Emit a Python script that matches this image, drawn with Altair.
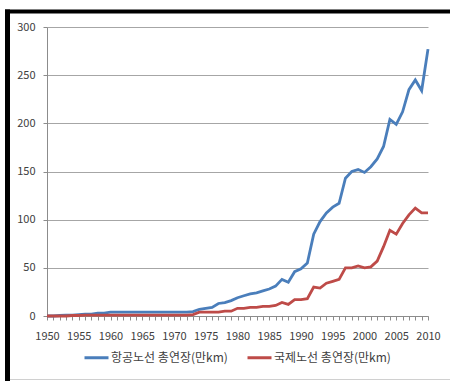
import altair as alt
import pandas as pd

years = list(range(1950, 2011))

air_total = [0, 0, 0.5, 1, 1, 1.5, 2, 2, 3, 3, 4,
             4, 4, 4, 4, 4, 4, 4, 4, 4, 4, 4, 4,
             4.5, 7, 8, 9, 13, 14, 16, 19, 21, 23, 24, 26, 28, 31, 38, 35, 46, 49,
             55, 85, 98, 107, 113, 117, 143, 150, 152, 149, 155, 163, 176, 204,
             199, 212, 235, 245, 234, 277]

intl_total = [0, 0, 0, 0, 0.5, 0.5, 1, 1, 1, 1, 1,
              1, 1, 1, 1, 1, 1, 1, 1, 1, 1, 1, 1,
              1.5, 4, 4, 4, 4, 5, 5, 8, 8, 9, 9, 10, 10, 11, 14, 12, 17, 17,
              18, 30, 29, 34, 36, 38, 50, 50, 52, 50, 51, 57, 72, 89,
              85, 96, 105, 112, 107, 107]

series_names = ["항공노선 총연장(만km)", "국제노선 총연장(만km)"]
series_colors = ["#4A7EBB", "#BE4B48"]

rows = []
for y, a, b in zip(years, air_total, intl_total):
    rows.append({"year": y, "value": a, "series": series_names[0]})
    rows.append({"year": y, "value": b, "series": series_names[1]})
df = pd.DataFrame(rows)

FONT = "Noto Sans CJK KR"

lines = alt.Chart(df).mark_line(strokeWidth=2.8).encode(
    x=alt.X("year:Q",
            scale=alt.Scale(domain=[1950, 2010], nice=False, zero=False),
            axis=alt.Axis(values=years, format="d",
                          labelExpr="datum.value % 5 == 0 ? datum.label : ''",
                          title=None, grid=False, tickSize=4, tickColor="#8c8c8c",
                          domainColor="#8c8c8c", labelFontSize=11, labelColor="#404040",
                          labelFont=FONT, labelPadding=10, labelFlush=False,
                          labelOverlap=False)),
    y=alt.Y("value:Q",
            scale=alt.Scale(domain=[0, 300], nice=False),
            axis=alt.Axis(values=[0, 50, 100, 150, 200, 250, 300], title=None,
                          grid=True, gridColor="#a6a6a6", tickSize=4, tickColor="#8c8c8c",
                          domainColor="#8c8c8c", labelFontSize=11, labelColor="#404040",
                          labelFont=FONT, labelPadding=8)),
    color=alt.Color("series:N",
                    scale=alt.Scale(domain=series_names, range=series_colors),
                    legend=alt.Legend(title=None, orient="none", direction="horizontal",
                                      legendX=36, legendY=317, symbolType="stroke",
                                      symbolSize=576, symbolStrokeWidth=3,
                                      labelFont=FONT, labelFontSize=12,
                                      labelColor="#404040", columnPadding=13,
                                      labelOffset=1)),
)

one = pd.DataFrame({"a": [0]})
top_border = alt.Chart(one).mark_rule(color="black", strokeWidth=4).encode(
    x=alt.value(-42), x2=alt.value(403), y=alt.value(-15.5))
left_border = alt.Chart(one).mark_rule(color="black", strokeWidth=5).encode(
    x=alt.value(-39.5), y=alt.value(-17.5), y2=alt.value(354))
bottom_border = alt.Chart(one).mark_rule(color="#d0d0d0", strokeWidth=1).encode(
    x=alt.value(-37), x2=alt.value(403), y=alt.value(352.5))

chart = alt.layer(lines, top_border, left_border, bottom_border).properties(
    width=381, height=289,
    autosize=alt.AutoSizeParams(type="none"),
    padding={"left": 47, "top": 27, "right": 22, "bottom": 65},
    background="white",
).configure_view(stroke=None)

chart.save("out.html", embed_options={"renderer": "svg", "actions": False})
